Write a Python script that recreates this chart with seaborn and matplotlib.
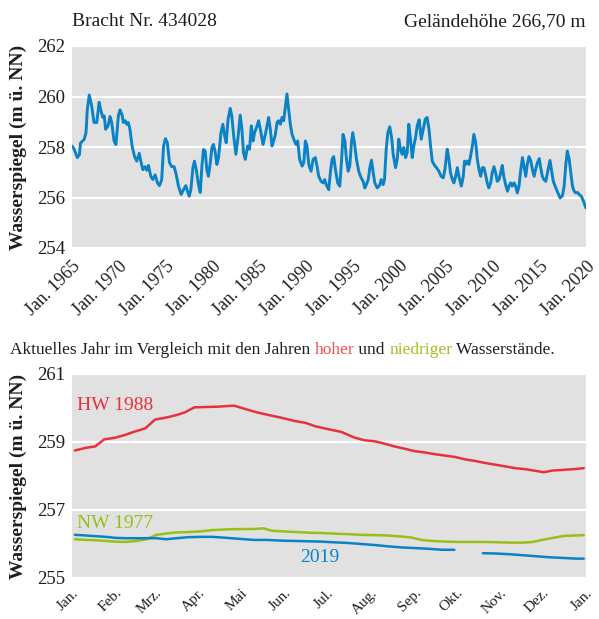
import numpy as np
import pandas as pd
import matplotlib
matplotlib.use("Agg")
import matplotlib.pyplot as plt
import seaborn as sns

# ---- long-term hydrograph, well "Bracht Nr. 434028" ----
years = [
    1965.0, 1965.2, 1965.57, 1965.8, 1965.9, 1966.3, 1966.5, 1966.64, 1966.85, 1967.1,
    1967.36, 1967.65, 1967.9, 1968.1, 1968.3, 1968.45, 1968.6, 1968.86, 1969.07, 1969.25,
    1969.5, 1969.7, 1969.96, 1970.14, 1970.36, 1970.5, 1970.7, 1970.86, 1971.03, 1971.2,
    1971.43, 1971.68, 1971.93, 1972.2, 1972.36, 1972.58, 1972.82, 1973.0, 1973.18, 1973.43,
    1973.65, 1973.9, 1974.14, 1974.36, 1974.6, 1974.8, 1975.0, 1975.2, 1975.43, 1975.68,
    1975.93, 1976.15, 1976.39, 1976.68, 1976.93, 1977.18, 1977.36, 1977.54, 1977.72, 1977.94,
    1978.1, 1978.3, 1978.5, 1978.72, 1978.9, 1979.07, 1979.25, 1979.43, 1979.6, 1979.8,
    1979.97, 1980.14, 1980.33, 1980.5, 1980.68, 1980.94, 1981.15, 1981.3, 1981.5, 1981.7,
    1981.93, 1982.1, 1982.3, 1982.54, 1982.76, 1983.0, 1983.18, 1983.35, 1983.54, 1983.79,
    1984.0, 1984.19, 1984.37, 1984.54, 1984.8, 1984.97, 1985.22, 1985.44, 1985.69, 1985.87,
    1986.04, 1986.22, 1986.4, 1986.58, 1986.76, 1986.94, 1987.1, 1987.3, 1987.47, 1987.65,
    1987.83, 1988.0, 1988.18, 1988.36, 1988.55, 1988.8, 1988.97, 1989.15, 1989.36, 1989.62,
    1989.8, 1989.97, 1990.15, 1990.33, 1990.58, 1990.8, 1991.04, 1991.22, 1991.4, 1991.65,
    1991.87, 1992.04, 1992.2, 1992.47, 1992.65, 1992.83, 1993.0, 1993.19, 1993.43, 1993.65,
    1993.83, 1994.0, 1994.2, 1994.37, 1994.55, 1994.72, 1994.9, 1995.04, 1995.22, 1995.44,
    1995.68, 1995.94, 1996.15, 1996.33, 1996.5, 1996.7, 1996.87, 1997.05, 1997.23, 1997.4,
    1997.66, 1997.9, 1998.09, 1998.3, 1998.44, 1998.62, 1998.8, 1999.0, 1999.2, 1999.37,
    1999.62, 1999.8, 1999.97, 2000.15, 2000.33, 2000.5, 2000.7, 2000.87, 2001.04, 2001.22,
    2001.4, 2001.58, 2001.76, 2001.94, 2002.15, 2002.37, 2002.58, 2002.8, 2003.0, 2003.2,
    2003.37, 2003.55, 2003.8, 2004.0, 2004.26, 2004.5, 2004.73, 2004.9, 2005.15, 2005.33,
    2005.5, 2005.7, 2005.87, 2006.05, 2006.23, 2006.4, 2006.66, 2006.87, 2007.0, 2007.12,
    2007.3, 2007.47, 2007.65, 2007.84, 2008.0, 2008.2, 2008.37, 2008.55, 2008.73, 2008.9,
    2009.07, 2009.25, 2009.43, 2009.6, 2009.8, 2009.97, 2010.15, 2010.33, 2010.5, 2010.7,
    2010.87, 2011.04, 2011.2, 2011.4, 2011.6, 2011.76, 2011.94, 2012.1, 2012.3, 2012.47,
    2012.65, 2012.83, 2013.0, 2013.2, 2013.37, 2013.55, 2013.72, 2013.9, 2014.1, 2014.27,
    2014.45, 2014.6, 2014.8, 2015.0, 2015.15, 2015.33, 2015.5, 2015.7, 2015.94, 2016.15,
    2016.3, 2016.5, 2016.77, 2017.0, 2017.23, 2017.48, 2017.66, 2017.84, 2018.0, 2018.2,
    2018.37, 2018.55, 2018.73, 2018.9, 2019.1, 2019.26, 2019.5, 2019.74, 2019.98,
]
levels = [
    258.04, 257.94, 257.58, 257.70, 258.15, 258.30, 258.57, 259.50, 260.06, 259.63,
    258.97, 258.97, 259.77, 259.43, 259.17, 259.23, 258.70, 258.84, 259.21, 258.97,
    258.24, 258.10, 259.23, 259.47, 259.26, 258.97, 259.04, 258.90, 258.97, 258.70,
    258.04, 257.64, 257.44, 257.75, 257.44, 257.10, 257.22, 257.08, 257.27, 256.84,
    256.71, 256.90, 256.58, 256.47, 256.71, 258.04, 258.33, 258.17, 257.38, 257.22,
    257.22, 256.91, 256.45, 256.12, 256.31, 256.47, 256.25, 256.05, 256.31, 257.18,
    257.44, 257.10, 256.58, 256.20, 257.24, 257.90, 257.84, 257.10, 256.84, 257.38,
    257.98, 258.10, 257.78, 257.31, 257.58, 258.57, 258.90, 258.50, 258.17, 259.10,
    259.53, 259.23, 258.44, 257.71, 258.37, 259.26, 258.70, 257.78, 257.51, 258.04,
    257.91, 258.84, 258.24, 258.57, 258.84, 259.04, 258.57, 258.10, 258.50, 258.84,
    259.17, 258.70, 258.04, 258.24, 258.50, 258.97, 259.04, 258.90, 259.17, 259.04,
    259.57, 260.10, 259.50, 258.90, 258.50, 258.24, 258.10, 258.24, 257.51, 257.24,
    257.38, 258.24, 258.04, 257.31, 257.04, 257.51, 257.58, 257.24, 256.84, 256.64,
    256.58, 256.71, 256.51, 256.31, 257.00, 257.51, 257.62, 257.10, 256.58, 256.45,
    257.38, 258.50, 258.24, 257.51, 257.04, 257.24, 258.17, 258.57, 258.17, 257.51,
    257.04, 256.78, 256.64, 256.38, 256.51, 256.71, 257.18, 257.48, 256.98, 256.58,
    256.38, 256.47, 256.71, 256.51, 256.71, 257.91, 258.57, 258.80, 258.37, 257.71,
    257.18, 257.51, 258.31, 257.91, 257.71, 257.98, 257.58, 257.78, 258.90, 258.31,
    257.58, 258.04, 258.37, 258.84, 259.08, 258.31, 258.70, 259.10, 259.17, 258.70,
    258.04, 257.44, 257.27, 257.18, 257.04, 256.84, 256.78, 257.10, 257.91, 257.51,
    256.98, 256.71, 256.58, 256.84, 257.18, 256.84, 256.45, 256.84, 257.44, 257.31,
    257.44, 257.31, 257.64, 258.04, 258.50, 258.17, 257.51, 257.10, 256.84, 257.18,
    257.18, 256.91, 256.58, 256.38, 256.58, 256.98, 257.22, 256.98, 256.64, 256.71,
    256.98, 257.27, 256.84, 256.51, 256.25, 256.45, 256.58, 256.45, 256.58, 256.45,
    256.18, 256.45, 257.04, 257.58, 257.24, 256.84, 257.31, 257.62, 257.44, 257.10,
    256.84, 257.10, 257.38, 257.54, 257.18, 256.84, 256.71, 256.64, 257.10, 257.47,
    257.10, 256.64, 256.38, 256.18, 255.98, 256.07, 256.45, 257.31, 257.84, 257.51,
    256.98, 256.45, 256.25, 256.18, 256.20, 256.12, 256.05, 255.85, 255.59,
]
year_ticks = [1965, 1970, 1975, 1980, 1985, 1990, 1995, 2000, 2005, 2010, 2015, 2020]
year_tick_labels = [f"Jan. {y}" for y in year_ticks]

# ---- annual course: high-water year, low-water year, current year ----
hw_days = [2, 10, 16.5, 23, 30, 37, 44, 52, 59, 67, 74, 80, 87, 96, 104, 115, 123, 131.5,
           140, 148, 158, 166, 173, 181.6, 191, 200.6, 207.8, 215, 222, 229, 236.4, 243.6,
           250.8, 258, 265, 272, 279, 286.5, 293.7, 301, 308, 315, 322, 328, 335, 341,
           348.6, 355.8, 363.4]
hw_levels = [258.75, 258.83, 258.87, 259.08, 259.12, 259.20, 259.30, 259.40, 259.66, 259.72,
             259.79, 259.87, 260.02, 260.03, 260.04, 260.07, 259.97, 259.87, 259.79, 259.72,
             259.62, 259.56, 259.46, 259.38, 259.30, 259.13, 259.05, 259.02, 258.95, 258.87,
             258.80, 258.73, 258.69, 258.64, 258.60, 258.56, 258.49, 258.44, 258.38, 258.33,
             258.28, 258.23, 258.20, 258.16, 258.11, 258.16, 258.18, 258.20, 258.23]

nw_days = [2, 10, 17, 24, 31, 38, 45.6, 52.8, 60, 67, 74, 82.5, 91, 100, 110, 119.5, 129,
           136, 142, 150.5, 160, 169.6, 179, 188.8, 196, 205.4, 215, 224.6, 234, 241, 248,
           255.5, 265, 274.6, 284, 293.7, 303, 313, 320, 327, 334, 342.7, 350, 357, 363.4]
nw_levels = [256.14, 256.12, 256.11, 256.09, 256.07, 256.06, 256.09, 256.14, 256.27, 256.31,
             256.34, 256.35, 256.37, 256.41, 256.43, 256.44, 256.44, 256.46, 256.39, 256.37,
             256.35, 256.33, 256.32, 256.30, 256.29, 256.27, 256.26, 256.25, 256.22, 256.19,
             256.12, 256.09, 256.07, 256.06, 256.06, 256.06, 256.05, 256.04, 256.04, 256.06,
             256.12, 256.19, 256.24, 256.25, 256.26]

# current year; NaN marks the missing readings in October
cy_days = [2, 10, 17, 24, 31, 38, 45.6, 52.8, 60, 67, 74, 82.5, 91, 100, 110, 119.5, 129,
           138.6, 148, 157.7, 167, 177, 186, 196, 205.4, 215, 224.6, 234, 243.6, 253, 262.7,
           271.5, 281, 291.8, 301, 310.5, 320, 329.5, 339, 348.6, 358, 363.4]
cy_levels = [256.27, 256.25, 256.23, 256.21, 256.18, 256.17, 256.17, 256.17, 256.17, 256.14,
             256.17, 256.20, 256.21, 256.21, 256.18, 256.15, 256.12, 256.12, 256.10, 256.09,
             256.08, 256.07, 256.05, 256.03, 256.00, 255.97, 255.93, 255.90, 255.88, 255.86,
             255.83, 255.83, np.nan, 255.73, 255.72, 255.70, 255.67, 255.64, 255.61, 255.59,
             255.57, 255.57]

month_labels = ["Jan.", "Feb.", "Mrz.", "Apr.", "Mai", "Jun.", "Jul.", "Aug.",
                "Sep.", "Okt.", "Nov.", "Dez.", "Jan."]

# ---- style ----
BG = "#e1e1e1"
TXT = "#1e1e1e"
BLUE = "#0a82c6"
RED = "#e6323e"
GREEN = "#97bf17"
SERIF = ["Liberation Serif", "DejaVu Serif"]

sns.set_theme(style="white", rc={
    "axes.facecolor": BG,
    "axes.edgecolor": BG,
    "grid.color": "white",
    "grid.linewidth": 1.6,
})
plt.rcParams["font.family"] = SERIF

W, H = 599, 619
fig = plt.figure(figsize=(W / 100, H / 100), dpi=100)


def axes_px(left, top, right, bottom):
    return fig.add_axes([left / W, 1 - bottom / H, (right - left) / W, (bottom - top) / H])


def style_axes(ax, xlabelsize, ticklen):
    for s in ax.spines.values():
        s.set_visible(False)
    ax.grid(axis="y", color="white", linewidth=1.6)
    ax.grid(axis="x", visible=False)
    ax.tick_params(axis="x", direction="out", length=ticklen, width=1.5, color="#d9d9d9",
                   labelsize=xlabelsize, labelcolor=TXT, pad=1)
    ax.tick_params(axis="y", length=0, labelsize=13.5, labelcolor=TXT, pad=5)
    ax.set_xlabel("")
    ax.set_ylabel("")


# top panel
ax1 = axes_px(72, 46, 586, 248)
top_df = pd.DataFrame({"Jahr": years, "Wasserspiegel": levels})
sns.lineplot(data=top_df, x="Jahr", y="Wasserspiegel", ax=ax1, color=BLUE,
             linewidth=2.1, legend=False)
ax1.set_xlim(1965, 2020)
ax1.set_ylim(254, 262)
ax1.set_yticks([254, 256, 258, 260, 262])
ax1.set_xticks(year_ticks)
ax1.set_xticklabels(year_tick_labels, rotation=45, ha="right", rotation_mode="anchor")
style_axes(ax1, 13, 6)

fig.text(72 / W, 1 - 22 / H, "Bracht Nr. 434028", fontsize=14, color=TXT,
         ha="left", va="center")
fig.text(586 / W, 1 - 22 / H, "Geländehöhe 266,70 m", fontsize=14, color=TXT,
         ha="right", va="center")
fig.text(18 / W, 1 - 147 / H, "Wasserspiegel (m ü. NN)", fontsize=14, fontweight="bold",
         color=TXT, rotation=90, ha="center", va="center")

# caption with coloured keywords
renderer = fig.canvas.get_renderer()
parts = [("Aktuelles Jahr im Vergleich mit den Jahren ", TXT), ("hoher", "#f0505a"),
         (" und ", TXT), ("niedriger", "#9bc31e"), (" Wasserstände.", TXT)]
cx = 10 / W
for txt, col in parts:
    t = fig.text(cx, 1 - 350 / H, txt, fontsize=12.5, color=col, ha="left", va="center")
    cx += t.get_window_extent(renderer=renderer).width / fig.bbox.width

# bottom panel
start = pd.Timestamp("2019-01-01")


def to_dates(days):
    return start + pd.to_timedelta(np.asarray(days, dtype=float), unit="D")


ax2 = axes_px(72, 374, 586, 578)
hw_df = pd.DataFrame({"Datum": to_dates(hw_days), "Wasserspiegel": hw_levels})
nw_df = pd.DataFrame({"Datum": to_dates(nw_days), "Wasserspiegel": nw_levels})
cy_df = pd.DataFrame({"Datum": to_dates(cy_days), "Wasserspiegel": cy_levels})
sns.lineplot(data=hw_df, x="Datum", y="Wasserspiegel", ax=ax2, color=RED, linewidth=1.8)
sns.lineplot(data=nw_df, x="Datum", y="Wasserspiegel", ax=ax2, color=GREEN, linewidth=1.8)
ax2.plot(cy_df["Datum"], cy_df["Wasserspiegel"], color=BLUE, linewidth=1.8)
month_ticks = pd.date_range("2019-01-01", "2020-01-01", freq="MS")
ax2.set_xlim(month_ticks[0], month_ticks[-1])
ax2.set_ylim(255, 261)
ax2.set_yticks([255, 257, 259, 261])
ax2.set_xticks(month_ticks)
ax2.set_xticklabels(month_labels, rotation=45, ha="right", rotation_mode="anchor")
style_axes(ax2, 11, 5)

ax2.text(to_dates([3.5])[0], 260.08, "HW 1988", color=RED, fontsize=14,
         ha="left", va="center")
ax2.text(to_dates([3.5])[0], 256.6, "NW 1977", color=GREEN, fontsize=14,
         ha="left", va="center")
ax2.text(to_dates([162])[0], 255.6, "2019", color=BLUE, fontsize=14,
         ha="left", va="center")
fig.text(18 / W, 1 - 476 / H, "Wasserspiegel (m ü. NN)", fontsize=14, fontweight="bold",
         color=TXT, rotation=90, ha="center", va="center")

fig.savefig("out.png", dpi=100, facecolor="white")
